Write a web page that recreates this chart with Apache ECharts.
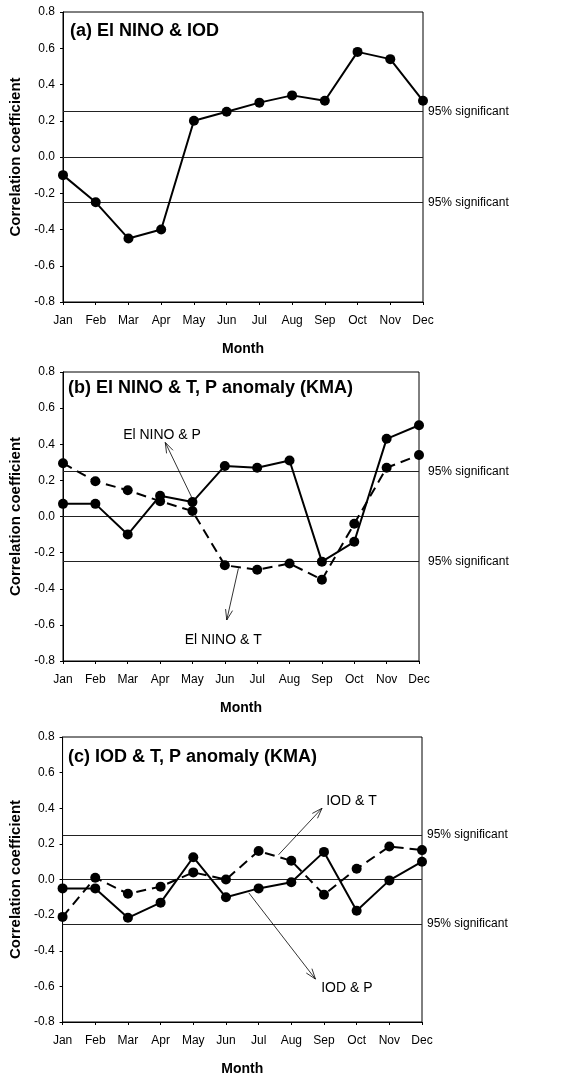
<!DOCTYPE html>
<html>
<head>
<meta charset="utf-8">
<script src="https://cdn.jsdelivr.net/npm/echarts@6/dist/echarts.min.js"></script>
<style>
html,body{margin:0;padding:0;background:#fff;}
#chart{width:563px;height:1077px;}
</style>
</head>
<body>
<div id="chart"></div>
<script>
// ---------- data ----------
const months = ['Jan','Feb','Mar','Apr','May','Jun','Jul','Aug','Sep','Oct','Nov','Dec'];
const yTicks = [-0.8,-0.6,-0.4,-0.2,0.0,0.2,0.4,0.6,0.8];
const sigLevel = 0.25;
const sigLabel = '95% significant';

// (a) El NINO & IOD
const elninoIOD = [-0.10,-0.25,-0.45,-0.40,0.20,0.25,0.30,0.34,0.31,0.58,0.54,0.31];
// (b) El NINO & T, P anomaly (KMA)
const elninoP = [0.07,0.07,-0.10,0.115,0.08,0.28,0.27,0.31,-0.25,-0.14,0.43,0.505];
const elninoT = [0.295,0.195,0.145,0.085,0.03,-0.27,-0.295,-0.26,-0.35,-0.04,0.27,0.34];
// (c) IOD & T, P anomaly (KMA)
const iodP = [-0.05,-0.05,-0.215,-0.13,0.125,-0.10,-0.05,-0.015,0.155,-0.175,-0.005,0.10];
const iodT = [-0.21,0.01,-0.08,-0.04,0.04,0.0,0.16,0.105,-0.085,0.06,0.185,0.165];

const panelTitles = ['(a) El NINO & IOD','(b) El NINO & T, P anomaly (KMA)','(c) IOD & T, P anomaly (KMA)'];
const yName = 'Correlation coefficient';
const xName = 'Month';

// annotations: [gridIndex, label, labelX, labelY, tailX, tailY, headX, headY] (data coords)
const annotations = [
  [1, 'El NINO & P', 3.06, 0.45, 3.98, 0.105, 3.16, 0.41],
  [1, 'El NINO & T', 4.95, -0.685, 5.42, -0.287, 5.06, -0.573],
  [2, 'IOD & T', 8.84, 0.44, 6.61, 0.139, 7.94, 0.40],
  [2, 'IOD & P', 8.70, -0.61, 5.70, -0.075, 7.74, -0.559]
];

// ---------- chart ----------
const FONT = '"Liberation Sans", Arial, Helvetica, sans-serif';
const chart = echarts.init(document.getElementById('chart'), null, {renderer:'canvas'});

const grids = [
  {left:63, top:12,  width:360, height:290},
  {left:63, top:372, width:356, height:289},
  {left:62, top:737, width:360, height:286}
];
const titleY = [31, 388, 757];
const titleX = [70, 68, 68];
const sigDist = [5, 9, 5];

function xAxisFor(i){
  return {
    type:'value', gridIndex:i, min:0, max:11, interval:1,
    name:xName, nameLocation:'middle', nameGap:40,
    nameTextStyle:{fontFamily:FONT, fontSize:14, fontWeight:'bold', color:'#000'},
    axisLine:{show:true, onZero:false, lineStyle:{color:'#000', width:1}},
    axisTick:{show:true, inside:false, length:3, lineStyle:{color:'#000'}},
    axisLabel:{margin:13, fontFamily:FONT, fontSize:12, color:'#000',
      formatter:v => months[Math.round(v)] || ''},
    splitLine:{show:false}
  };
}
function yAxisFor(i){
  return {
    type:'value', gridIndex:i, min:yTicks[0], max:yTicks[yTicks.length-1], interval:0.2,
    name:yName, nameLocation:'middle', nameGap:36, nameRotate:90,
    nameTextStyle:{fontFamily:FONT, fontSize:15, fontWeight:'bold', color:'#000'},
    axisLine:{show:true, onZero:false, lineStyle:{color:'#000', width:1}},
    axisTick:{show:true, inside:false, length:3, lineStyle:{color:'#000'}},
    axisLabel:{margin:8, fontFamily:FONT, fontSize:12, color:'#000',
      formatter:v => v.toFixed(1)},
    splitLine:{show:false}
  };
}
function refLines(i){
  return {
    silent:true, symbol:['none','none'], animation:false,
    lineStyle:{color:'#222', width:1, type:'solid'},
    label:{show:true, position:'end', distance:sigDist[i], fontFamily:FONT, fontSize:12, color:'#000',
      formatter:p => (p.value === 0 ? '' : sigLabel)},
    emphasis:{disabled:true},
    data:[{yAxis:sigLevel},{yAxis:0},{yAxis:-sigLevel}]
  };
}
function lineSeries(i, vals, dashed, withRef){
  const s = {
    type:'line', xAxisIndex:i, yAxisIndex:i,
    data: vals.map((v,k)=>[k,v]),
    symbol:'circle', symbolSize:10,
    itemStyle:{color:'#000'},
    lineStyle:{color:'#000', width:2, type: dashed ? [10,6] : 'solid'},
    animation:false, z:5
  };
  if (withRef) s.markLine = refLines(i);
  return s;
}

const option = {
  backgroundColor:'#fff',
  animation:false,
  grid: grids.map(g => Object.assign({show:true, borderColor:'#000', borderWidth:1, backgroundColor:'transparent'}, g)),
  xAxis: [0,1,2].map(xAxisFor),
  yAxis: [0,1,2].map(yAxisFor),
  series: [
    lineSeries(0, elninoIOD, false, true),
    lineSeries(1, elninoP, false, true),
    lineSeries(1, elninoT, true, false),
    lineSeries(2, iodP, false, true),
    lineSeries(2, iodT, true, false)
  ]
};
chart.setOption(option);

// ---------- titles & annotations ----------
const graphics = [];
panelTitles.forEach((t,i) => {
  graphics.push({type:'text', z:10, style:{text:t, x:titleX[i], y:titleY[i],
    font:'bold 18px ' + FONT, fill:'#000', textAlign:'left', textVerticalAlign:'middle', verticalAlign:'middle'}});
});
annotations.forEach(a => {
  const [gi, label, lx, ly, tx, ty, hx, hy] = a;
  const L = chart.convertToPixel({gridIndex:gi}, [lx, ly]);
  const T = chart.convertToPixel({gridIndex:gi}, [tx, ty]);
  const H = chart.convertToPixel({gridIndex:gi}, [hx, hy]);
  graphics.push({type:'text', z:10, style:{text:label, x:L[0], y:L[1],
    font:'14px ' + FONT, fill:'#000', textAlign:'center', textVerticalAlign:'middle', verticalAlign:'middle'}});
  graphics.push({type:'line', z:10, shape:{x1:T[0], y1:T[1], x2:H[0], y2:H[1]},
    style:{stroke:'#000', lineWidth:0.8}});
  const ang = Math.atan2(H[1]-T[1], H[0]-T[0]);
  const len = 11, spread = 0.33;
  const p1 = [H[0] - len*Math.cos(ang - spread), H[1] - len*Math.sin(ang - spread)];
  const p2 = [H[0] - len*Math.cos(ang + spread), H[1] - len*Math.sin(ang + spread)];
  graphics.push({type:'polyline', z:10, shape:{points:[p1, H, p2]},
    style:{stroke:'#000', lineWidth:0.8, fill:null}});
});
chart.setOption({graphic: graphics});
</script>
</body>
</html>
